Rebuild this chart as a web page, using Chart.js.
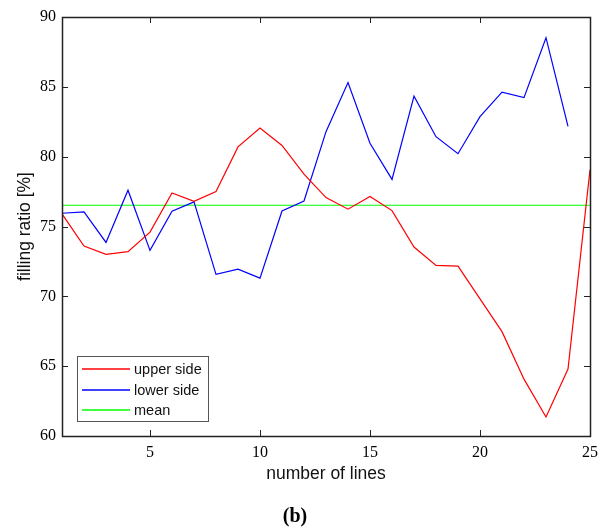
<!DOCTYPE html>
<html>
<head>
<meta charset="utf-8">
<script src="https://cdn.jsdelivr.net/npm/chart.js@4.4.1/dist/chart.umd.min.js"></script>
<style>
  html, body { margin: 0; padding: 0; background: #fff; }
  #wrap { width: 609px; height: 529px; position: relative; }
</style>
</head>
<body>
<div id="wrap"><canvas id="grafico"></canvas></div>
<script>
// numero de linhas (eixo x)
const lines = [1, 2, 3, 4, 5, 6, 7, 8, 9, 10, 11, 12, 13, 14, 15, 16, 17, 18, 19, 20, 21, 22, 23, 24, 25];
// valores
const upperSide = [75.9, 73.6, 73.0, 73.2, 74.6, 77.4, 76.8, 77.5, 80.7, 82.05, 80.8, 78.75, 77.07,
                   76.24, 77.15, 76.14, 73.53, 72.21, 72.16, 69.82, 67.47, 64.07, 61.36, 64.79, 79.06];
const lowerSide = [75.95, 76.04, 73.86, 77.6, 73.29, 76.09, 76.76, 71.57, 71.95, 71.3, 76.11, 76.83,
                   81.79, 85.31, 80.96, 78.37, 84.33, 81.43, 80.21, 82.87, 84.62, 84.23, 88.52, 82.17];
const meanValue = 76.52;
const xTicks = [5, 10, 15, 20, 25];
const yTicks = [60, 65, 70, 75, 80, 85, 90];
const seriesNames = ['upper side', 'lower side', 'mean'];

const cores = ['#ff0000', '#0000ff', '#00ff00'];
const serif = "'Liberation Serif', 'DejaVu Serif', serif";
const sans = "'Liberation Sans', Arial, sans-serif";

function pts(xs, ys) {
    return ys.map((v, i) => ({ x: xs[i], y: v }));
}

// moldura, marcas internas e legenda dentro do grafico
const moldura = {
    id: 'moldura',
    afterDatasetsDraw(chart) {
        const ctx = chart.ctx;
        const a = chart.chartArea;
        const sx = chart.scales.x, sy = chart.scales.y;
        const tl = 6;
        ctx.save();
        ctx.strokeStyle = '#222';
        ctx.lineWidth = 1;
        ctx.beginPath();
        xTicks.forEach(t => {
            const px = Math.round(sx.getPixelForValue(t)) + 0.5;
            ctx.moveTo(px, a.bottom); ctx.lineTo(px, a.bottom - tl);
            ctx.moveTo(px, a.top); ctx.lineTo(px, a.top + tl);
        });
        yTicks.forEach(t => {
            const py = Math.round(sy.getPixelForValue(t)) + 0.5;
            ctx.moveTo(a.left, py); ctx.lineTo(a.left + tl, py);
            ctx.moveTo(a.right, py); ctx.lineTo(a.right - tl, py);
        });
        ctx.stroke();
        ctx.lineWidth = 1.5;
        ctx.strokeRect(Math.round(a.left) + 0.5, Math.round(a.top) + 0.5,
                       Math.round(a.right - a.left), Math.round(a.bottom - a.top));

        // legenda
        const lx = Math.round(a.left) + 15, ly = Math.round(a.bottom) - 80, lw = 131, lh = 65;
        ctx.fillStyle = '#fff';
        ctx.fillRect(lx, ly, lw, lh);
        ctx.strokeStyle = '#555';
        ctx.lineWidth = 1;
        ctx.strokeRect(lx + 0.5, ly + 0.5, lw, lh);
        ctx.font = '14.5px ' + sans;
        ctx.textBaseline = 'middle';
        seriesNames.forEach((nome, i) => {
            const yy = Math.round(ly + 13 + i * 20.5);
            ctx.strokeStyle = cores[i];
            ctx.lineWidth = 1.3;
            ctx.beginPath();
            ctx.moveTo(lx + 5, yy);
            ctx.lineTo(lx + 53, yy);
            ctx.stroke();
            ctx.fillStyle = '#111';
            ctx.fillText(nome, lx + 57, yy + 1);
        });
        ctx.restore();
    }
};

document.addEventListener('DOMContentLoaded', function() {
    const canvas = document.getElementById('grafico');
    if (!canvas) { console.error('canvas nao encontrado'); return; }
    const ctx = canvas.getContext('2d');

    const data = {
        datasets: [{
            label: seriesNames[0],
            data: pts(lines, upperSide),
            borderColor: cores[0],
            borderWidth: 1.2,
            pointRadius: 0,
            tension: 0
        }, {
            label: seriesNames[1],
            data: pts(lines, lowerSide),
            borderColor: cores[1],
            borderWidth: 1.2,
            pointRadius: 0,
            tension: 0
        }, {
            label: seriesNames[2],
            data: [{ x: lines[0], y: meanValue }, { x: lines[lines.length - 1], y: meanValue }],
            borderColor: cores[2],
            borderWidth: 1.2,
            pointRadius: 0
        }]
    };

    new Chart(ctx, {
        type: 'line',
        data: data,
        options: {
            responsive: true,
            maintainAspectRatio: false,
            animation: false,
            layout: { padding: { top: 17, right: 19, left: 0, bottom: 0 } },
            plugins: {
                legend: { display: false },
                tooltip: { enabled: false },
                title: {
                    display: true,
                    text: '(b)',
                    position: 'bottom',
                    color: '#000',
                    font: { family: serif, size: 20, weight: 'bold' },
                    padding: { top: 16.5, bottom: 0 }
                }
            },
            scales: {
                x: {
                    type: 'linear',
                    min: 1,
                    max: 25,
                    afterBuildTicks: s => { s.ticks = xTicks.map(v => ({ value: v })); },
                    afterFit: s => { s.height = 52.5; },
                    grid: { display: false, drawTicks: false },
                    border: { display: false },
                    ticks: { color: '#000', font: { family: serif, size: 16 }, padding: 7, maxRotation: 0 },
                    title: {
                        display: true,
                        text: 'number of lines',
                        color: '#111',
                        font: { family: sans, size: 17.5 },
                        padding: { top: 0, bottom: 4 }
                    }
                },
                y: {
                    min: 60,
                    max: 90,
                    afterBuildTicks: s => { s.ticks = yTicks.map(v => ({ value: v })); },
                    afterFit: s => { s.width = 62; },
                    grid: { display: false, drawTicks: false },
                    border: { display: false },
                    ticks: { color: '#000', font: { family: serif, size: 16 }, padding: 6 },
                    title: {
                        display: true,
                        text: 'filling ratio [%]',
                        color: '#111',
                        font: { family: sans, size: 17.5 },
                        padding: { top: 14.5, bottom: 0 }
                    }
                }
            }
        },
        plugins: [moldura]
    });
});
</script>
</body>
</html>
